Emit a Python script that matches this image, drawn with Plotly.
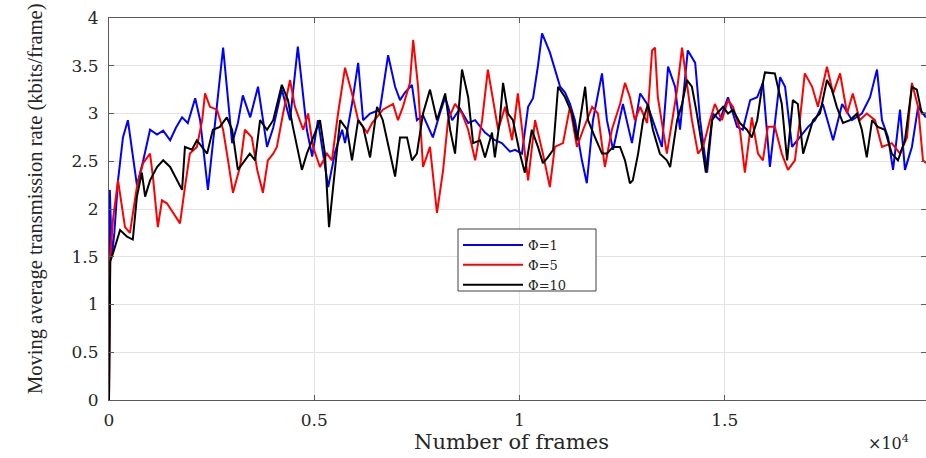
import plotly.graph_objects as go

# Moving average transmission rate (kbits/frame) against frame number
frames_phi1 = [0, 20, 70, 130, 220, 340, 460, 560, 680, 830, 1000, 1170, 1320, 1490, 1630, 1780,
               1920, 2100, 2220, 2410, 2580, 2780, 3000, 3140, 3260, 3440, 3630, 3850, 4000, 4210,
               4410, 4600, 4820, 4950, 5090, 5210, 5340, 5510, 5680, 5750, 5920, 6070, 6190, 6360,
               6600, 6800, 6970, 7090, 7210, 7380, 7500, 7650, 7890, 8060, 8190, 8360, 8550, 8750,
               8920, 9160, 9400, 9570, 9770, 9890, 10060, 10210, 10330, 10450, 10550, 10740, 10870,
               10990, 11110, 11230, 11350, 11520, 11640, 11790, 12010, 12130, 12280, 12520, 12740,
               12940, 13110, 13300, 13470, 13620, 13790, 13910, 14100, 14280, 14400, 14570, 14710,
               14880, 15080, 15300, 15440, 15620, 15790, 15930, 16100, 16350, 16470, 16640, 16830,
               17030, 17200, 17390, 17640, 17860, 18100, 18340, 18540, 18710, 18830, 18980, 19100,
               19270, 19390, 19560, 19710, 19900]
rate_phi1 = [0.0, 2.2, 1.5, 1.75, 2.3, 2.75, 2.93, 2.6, 2.25, 2.5, 2.83, 2.78, 2.82, 2.72, 2.85, 2.96,
             2.9, 3.16, 2.93, 2.2, 2.9, 3.69, 2.69, 2.9, 3.19, 2.96, 3.28, 2.65, 2.85, 3.25,
             2.93, 3.7, 2.83, 2.55, 2.93, 2.6, 2.23, 2.6, 2.83, 2.69, 3.1, 3.53, 2.93, 3.0,
             3.04, 3.61, 3.28, 3.14, 3.22, 3.3, 2.93, 2.98, 2.75, 3.0, 3.17, 2.93, 3.05, 2.9,
             2.93, 2.8, 2.72, 2.69, 2.6, 2.62, 2.58, 3.07, 3.16, 3.5, 3.84, 3.64, 3.46,
             3.28, 3.22, 3.1, 2.93, 2.51, 2.27, 2.93, 3.42, 2.93, 2.62, 3.1, 2.69,
             3.21, 3.1, 2.86, 2.65, 3.49, 3.28, 2.83, 3.66, 3.53, 2.93, 2.38, 3.0,
             2.93, 3.17, 2.86, 2.83, 3.14, 3.17, 3.32, 2.44, 3.38, 3.28, 2.65, 2.75,
             2.86, 2.93, 3.1, 2.72, 3.1, 2.93, 3.0, 3.17, 3.46, 2.93, 2.75, 2.41,
             3.04, 2.41, 2.65, 3.07, 2.96]

frames_phi5 = [0, 30, 100, 220, 390, 510, 680, 830, 1000, 1070, 1190, 1290, 1410, 1610, 1730, 1850,
               1970, 2140, 2270, 2340, 2460, 2630, 2780, 2900, 3020, 3190, 3310, 3480, 3610, 3750,
               3870, 4000, 4090, 4240, 4410, 4530, 4730, 4850, 4970, 5140, 5310, 5430, 5580, 5750,
               5920, 6070, 6290, 6410, 6530, 6670, 6920, 7040, 7160, 7330, 7410, 7530, 7650, 7820,
               7990, 8140, 8260, 8430, 8600, 8750, 8920, 9090, 9230, 9350, 9480, 9650, 9820, 9960,
               10090, 10210, 10380, 10570, 10740, 10860, 11060, 11230, 11400, 11550, 11770, 11910,
               12080, 12250, 12450, 12570, 12690, 12810, 12940, 13110, 13230, 13300, 13370, 13590,
               13710, 13840, 13960, 14080, 14200, 14350, 14470, 14640, 14760, 14930, 15080, 15200,
               15370, 15490, 15660, 15810, 15930, 16050, 16220, 16390, 16540, 16710, 16830, 16950,
               17130, 17270, 17490, 17640, 17810, 17980, 18120, 18290, 18460, 18660, 18830, 19070,
               19270, 19440, 19560, 19710, 19830, 19900]
rate_phi5 = [0.0, 1.5, 1.9, 2.3, 1.81, 1.75, 2.23, 2.48, 2.58, 2.34, 1.81, 2.09, 2.06, 1.92, 1.85, 2.23,
             2.58, 2.65, 2.93, 3.21, 3.07, 3.04, 2.83, 2.51, 2.17, 2.44, 2.83, 2.75, 2.41, 2.17,
             2.51, 2.58, 2.65, 3.0, 3.35, 3.07, 2.83, 3.0, 2.65, 2.44, 2.58, 2.51, 3.0, 3.48,
             3.21, 2.93, 2.8, 2.9, 2.96, 3.04, 3.1, 2.93, 3.07, 3.32, 3.77, 3.28, 2.44, 2.65,
             1.96, 2.41, 2.93, 3.1, 3.0, 2.83, 2.51, 2.93, 3.46, 3.17, 2.83, 3.07, 2.72, 3.21,
             2.75, 2.3, 2.93, 2.58, 2.23, 2.65, 2.69, 3.07, 2.65, 2.83, 3.07, 3.0,
             2.44, 2.83, 3.1, 3.32, 3.17, 2.93, 3.07, 2.9, 3.66, 3.69, 3.17, 2.58,
             2.9, 3.25, 3.69, 3.32, 2.93, 2.58, 2.65, 2.93, 3.1, 2.93, 3.14, 3.07,
             2.83, 2.38, 2.96, 2.58, 2.51, 2.86, 2.86, 2.58, 2.41, 2.51, 2.93, 3.42,
             3.28, 3.07, 3.49, 3.21, 3.42, 3.0, 3.21, 2.93, 3.0, 2.93, 2.65, 2.69,
             2.58, 2.75, 3.32, 3.07, 2.51, 2.48]

frames_phi10 = [0, 30, 100, 270, 440, 580, 680, 800, 880, 1000, 1170, 1320, 1490, 1660, 1780, 1850,
                2020, 2140, 2270, 2390, 2530, 2700, 2870, 3000, 3140, 3260, 3430, 3560, 3680, 3850,
                4000, 4210, 4360, 4480, 4700, 4820, 4970, 5140, 5260, 5360, 5460, 5630, 5800, 5920,
                6070, 6190, 6360, 6530, 6670, 6850, 6970, 7090, 7260, 7380, 7500, 7650, 7820, 7990,
                8190, 8310, 8430, 8600, 8750, 8870, 9040, 9160, 9330, 9400, 9520, 9600, 9720, 9840,
                10010, 10130, 10300, 10450, 10570, 10690, 10820, 10940, 11110, 11280, 11400, 11600,
                11670, 11840, 12010, 12130, 12280, 12450, 12570, 12690, 12760, 12890, 13010, 13130,
                13250, 13420, 13590, 13670, 13840, 13960, 14080, 14200, 14320, 14450, 14540, 14690,
                14810, 14960, 15080, 15200, 15370, 15540, 15660, 15790, 15910, 15980, 16220, 16390,
                16520, 16660, 16780, 16910, 17030, 17150, 17320, 17490, 17610, 17730, 17880, 18050,
                18220, 18340, 18460, 18590, 18730, 18900, 19070, 19220, 19390, 19560, 19680, 19800,
                19900]
rate_phi10 = [0.0, 1.45, 1.54, 1.78, 1.71, 1.68, 2.13, 2.38, 2.13, 2.3, 2.44, 2.51, 2.44, 2.3, 2.2, 2.65,
              2.62, 2.72, 2.65, 2.58, 2.83, 2.86, 2.96, 2.83, 2.41, 2.48, 2.58, 2.51, 2.93, 2.83,
              2.93, 3.3, 3.14, 2.86, 2.41, 2.58, 2.75, 2.93, 2.58, 1.81, 2.23, 2.93, 2.83, 2.51,
              2.93, 2.86, 2.54, 3.07, 2.93, 2.58, 2.34, 2.75, 2.75, 2.51, 2.58, 3.0, 3.25, 2.93,
              3.21, 2.83, 2.58, 3.46, 3.17, 2.69, 2.72, 2.54, 2.8, 2.54, 2.93, 3.32, 3.0, 2.93,
              2.58, 2.38, 2.83, 2.65, 2.48, 2.54, 2.62, 3.28, 3.17, 3.0, 2.72, 3.28,
              2.93, 2.75, 2.58, 2.58, 2.65, 2.65, 2.51, 2.27, 2.3, 2.58, 2.93, 3.1,
              2.83, 2.58, 2.51, 2.44, 2.93, 3.1, 3.35, 3.28, 3.0, 2.65, 2.38, 2.93,
              3.0, 3.07, 3.0, 3.04, 2.9, 2.83, 2.75, 2.93, 3.28, 3.43, 3.42, 3.1,
              2.51, 3.14, 3.1, 2.58, 2.75, 2.93, 3.0, 3.35, 3.25, 3.07, 2.9, 2.93,
              3.0, 2.83, 2.54, 2.93, 2.86, 2.83, 2.58, 2.51, 2.72, 3.28, 3.25, 3.0,
              3.0]

series_names = ["\u03a6=1", "\u03a6=5", "\u03a6=10"]
series_colors = ["#0000ff", "#ff0000", "#000000"]

x_tick_vals = [0, 5000, 10000, 15000, 20000]
x_tick_text = ["0", "0.5", "1", "1.5", "2"]
y_tick_vals = [0, 0.5, 1, 1.5, 2, 2.5, 3, 3.5, 4]
y_tick_text = ["0", "0.5", "1", "1.5", "2", "2.5", "3", "3.5", "4"]

W, H = 926, 458
ML, MR, MT, MB = 109, 0, 18, 58
plot_w = W - ML - MR
plot_h = H - MT - MB

def px_x(p):
    return (p - ML) / plot_w

def px_y(p):
    return (H - MB - p) / plot_h

fig = go.Figure()
for fr, rt, name, col in zip([frames_phi1, frames_phi5, frames_phi10],
                             [rate_phi1, rate_phi5, rate_phi10],
                             series_names, series_colors):
    fig.add_trace(go.Scatter(x=fr, y=rt, mode="lines", name=name,
                             line=dict(color=col, width=2)))

tick_font = dict(family="DejaVu Serif", size=17, color="#262626")

fig.update_layout(
    width=W, height=H,
    margin=dict(l=ML, r=MR, t=MT, b=MB, pad=0),
    paper_bgcolor="white", plot_bgcolor="white",
    showlegend=True,
    legend=dict(
        x=px_x(458), y=px_y(230), xanchor="left", yanchor="top",
        bgcolor="rgba(0,0,0,0)", borderwidth=0,
        font=dict(family="DejaVu Serif", size=13, color="#262626"),
        itemwidth=60, tracegroupgap=0,
    ),
    # legend frame
    shapes=[dict(type="rect", xref="paper", yref="paper",
                 x0=px_x(458), x1=px_x(596), y0=px_y(229), y1=px_y(291),
                 fillcolor="white", line=dict(color="#404040", width=1), layer="above")],
    xaxis=dict(
        range=[0, 19903], tickmode="array", tickvals=x_tick_vals, ticktext=x_tick_text,
        showgrid=True, gridcolor="#e3e3e3", gridwidth=1,
        showline=True, linecolor="#5a5a5a", linewidth=1.2, mirror="ticks",
        ticks="inside", ticklen=5, tickcolor="#5a5a5a",
        tickfont=tick_font, zeroline=False, ticklabelstandoff=4,
    ),
    yaxis=dict(
        range=[0, 4], tickmode="array", tickvals=y_tick_vals, ticktext=y_tick_text,
        showgrid=True, gridcolor="#e3e3e3", gridwidth=1,
        showline=True, linecolor="#5a5a5a", linewidth=1.2, mirror="ticks",
        ticks="inside", ticklen=5, tickcolor="#5a5a5a",
        tickfont=tick_font, zeroline=False, ticklabelstandoff=6,
    ),
    annotations=[
        dict(text="Moving average transmission rate (kbits/frame)", textangle=-90,
             xref="paper", yref="paper", x=px_x(35), y=px_y(199),
             xanchor="center", yanchor="middle", showarrow=False,
             font=dict(family="Liberation Serif", size=20.5, color="#262626")),
        dict(text="Number of frames",
             xref="paper", yref="paper", x=px_x(511), y=px_y(442),
             xanchor="center", yanchor="middle", showarrow=False,
             font=dict(family="DejaVu Serif", size=21, color="#262626")),
        dict(text="\u00d710<sup>4</sup>",
             xref="paper", yref="paper", x=px_x(866), y=px_y(443),
             xanchor="left", yanchor="middle", showarrow=False,
             font=dict(family="DejaVu Serif", size=16, color="#262626")),
    ],
)

fig.write_html("out.html")
